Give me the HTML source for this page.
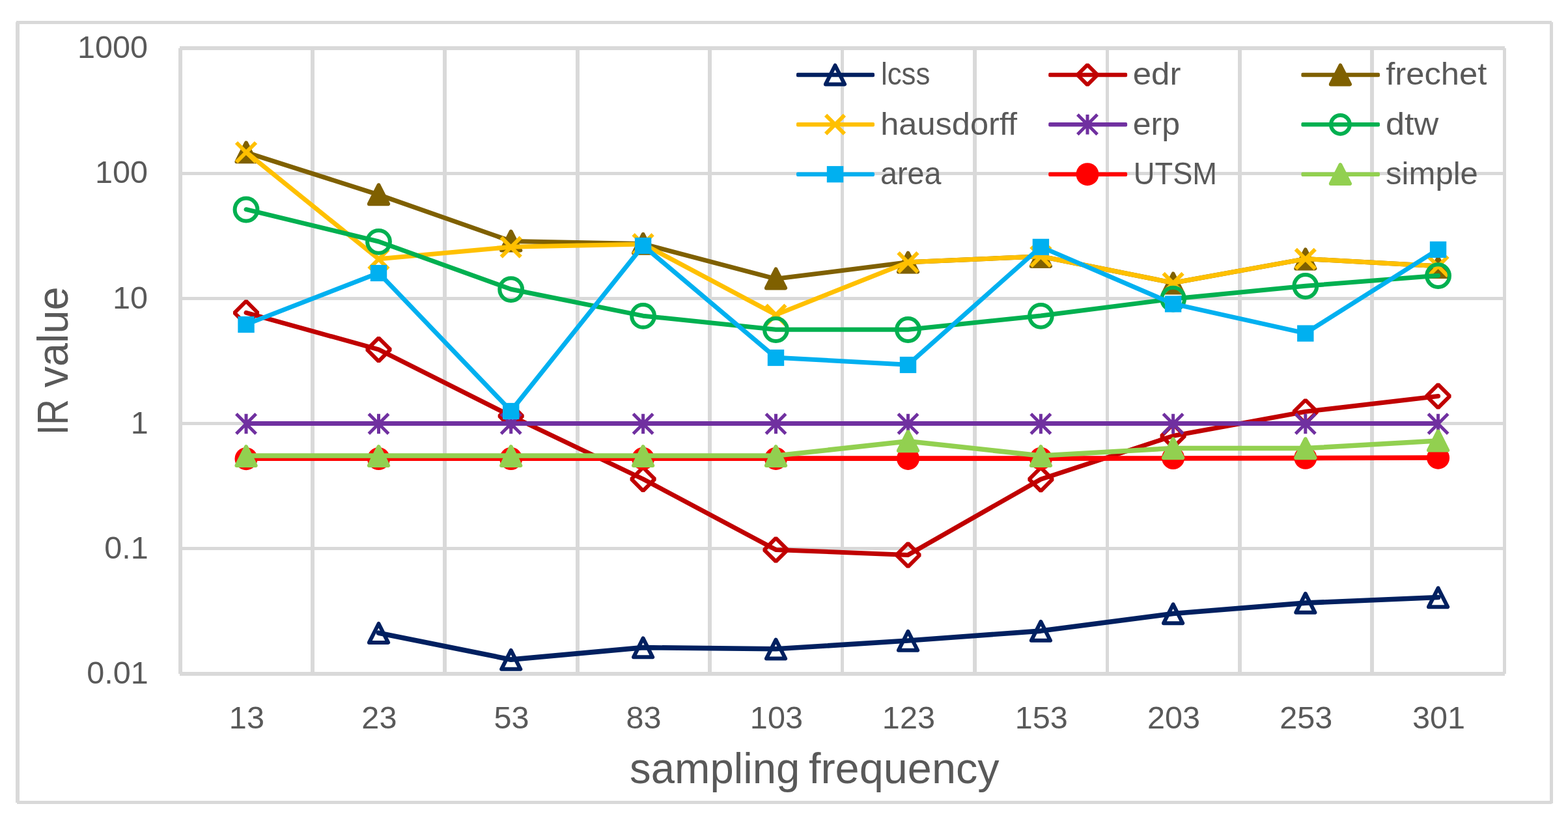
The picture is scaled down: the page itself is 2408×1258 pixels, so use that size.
<!DOCTYPE html>
<html lang="en"><head><meta charset="utf-8"><title>IR value vs sampling frequency</title>
<style>html,body{margin:0;padding:0;background:#fff;}body{width:2408px;height:1258px;overflow:hidden;}svg{display:block;}text{font-family:"Liberation Sans", sans-serif;fill:#595959;}</style>
</head><body>
<svg xmlns="http://www.w3.org/2000/svg" width="2408" height="1258" viewBox="0 0 2408 1258">
<rect width="2408" height="1258" fill="#fff"/>
<g fill="#D9D9D9" shape-rendering="crispEdges">
<rect x="25" y="32" width="2358" height="5"/>
<rect x="26" y="1230" width="2357" height="5"/>
<rect x="24" y="34" width="6" height="1198.6"/>
<rect x="2380" y="34" width="5" height="1199.5"/>
<rect x="276" y="71" width="2035" height="6"/>
<rect x="276" y="1032" width="2035" height="6"/>
<rect x="274" y="74" width="6" height="961"/>
<rect x="2308" y="74" width="5" height="961"/>
<rect x="277" y="264" width="2033" height="5"/>
<rect x="277" y="456" width="2033" height="5"/>
<rect x="277" y="648" width="2033" height="5"/>
<rect x="277" y="840" width="2033" height="5"/>
<rect x="477" y="74" width="6" height="961"/>
<rect x="680" y="74" width="6" height="961"/>
<rect x="884" y="74" width="6" height="961"/>
<rect x="1087" y="74" width="6" height="961"/>
<rect x="1291" y="74" width="5" height="961"/>
<rect x="1494" y="74" width="6" height="961"/>
<rect x="1698" y="74" width="5" height="961"/>
<rect x="1901" y="74" width="6" height="961"/>
<rect x="2104" y="74" width="6" height="961"/>
</g>
<g id="s-lcss">
<polyline points="581.5,972.2 784.7,1013.15 987.6,994.6 1191.5,996.8 1394.5,984.05 1598.4,969.1 1801.6,942.5 2004.8,926.1 2208.55,917.5" fill="none" stroke="#002060" stroke-width="7.6" stroke-linecap="round" stroke-linejoin="round"/>
<polygon points="581.5,958 596.1,986.9 566.9,986.9" fill="none" stroke="#002060" stroke-width="6" stroke-linejoin="round"/>
<polygon points="784.7,998.95 799.3,1027.85 770.1,1027.85" fill="none" stroke="#002060" stroke-width="6" stroke-linejoin="round"/>
<polygon points="987.6,980.4 1002.2,1009.3 973,1009.3" fill="none" stroke="#002060" stroke-width="6" stroke-linejoin="round"/>
<polygon points="1191.5,982.6 1206.1,1011.5 1176.9,1011.5" fill="none" stroke="#002060" stroke-width="6" stroke-linejoin="round"/>
<polygon points="1394.5,969.85 1409.1,998.75 1379.9,998.75" fill="none" stroke="#002060" stroke-width="6" stroke-linejoin="round"/>
<polygon points="1598.4,954.9 1613,983.8 1583.8,983.8" fill="none" stroke="#002060" stroke-width="6" stroke-linejoin="round"/>
<polygon points="1801.6,928.3 1816.2,957.2 1787,957.2" fill="none" stroke="#002060" stroke-width="6" stroke-linejoin="round"/>
<polygon points="2004.8,911.9 2019.4,940.8 1990.2,940.8" fill="none" stroke="#002060" stroke-width="6" stroke-linejoin="round"/>
<polygon points="2208.55,903.3 2223.15,932.2 2193.95,932.2" fill="none" stroke="#002060" stroke-width="6" stroke-linejoin="round"/>
</g>
<g id="s-edr">
<polyline points="378,480.4 581.5,536.85 784.7,638.9 987.6,735.8 1191.5,844.45 1394.5,852.4 1598.4,736.1 1801.6,669.5 2004.8,632.3 2208.55,608.4" fill="none" stroke="#C00000" stroke-width="7" stroke-linecap="round" stroke-linejoin="round"/>
<polygon points="378,462.6 395.9,480.5 378,498.4 360.1,480.5" fill="none" stroke="#C00000" stroke-width="6" stroke-linejoin="bevel"/>
<polygon points="581.5,519.05 599.4,536.95 581.5,554.85 563.6,536.95" fill="none" stroke="#C00000" stroke-width="6" stroke-linejoin="bevel"/>
<polygon points="784.7,621.1 802.6,639 784.7,656.9 766.8,639" fill="none" stroke="#C00000" stroke-width="6" stroke-linejoin="bevel"/>
<polygon points="987.6,718 1005.5,735.9 987.6,753.8 969.7,735.9" fill="none" stroke="#C00000" stroke-width="6" stroke-linejoin="bevel"/>
<polygon points="1191.5,826.65 1209.4,844.55 1191.5,862.45 1173.6,844.55" fill="none" stroke="#C00000" stroke-width="6" stroke-linejoin="bevel"/>
<polygon points="1394.5,834.6 1412.4,852.5 1394.5,870.4 1376.6,852.5" fill="none" stroke="#C00000" stroke-width="6" stroke-linejoin="bevel"/>
<polygon points="1598.4,718.3 1616.3,736.2 1598.4,754.1 1580.5,736.2" fill="none" stroke="#C00000" stroke-width="6" stroke-linejoin="bevel"/>
<polygon points="1801.6,651.7 1819.5,669.6 1801.6,687.5 1783.7,669.6" fill="none" stroke="#C00000" stroke-width="6" stroke-linejoin="bevel"/>
<polygon points="2004.8,614.5 2022.7,632.4 2004.8,650.3 1986.9,632.4" fill="none" stroke="#C00000" stroke-width="6" stroke-linejoin="bevel"/>
<polygon points="2208.55,590.6 2226.45,608.5 2208.55,626.4 2190.65,608.5" fill="none" stroke="#C00000" stroke-width="6" stroke-linejoin="bevel"/>
</g>
<g id="s-frechet">
<polyline points="378,234.2 581.5,299.1 784.7,370.4 987.6,374.6 1191.5,428.3 1394.5,402.75 1598.4,393.7 1801.6,434.5 2004.8,397.6 2208.55,408.7" fill="none" stroke="#7F6000" stroke-width="7" stroke-linecap="round" stroke-linejoin="round"/>
<polygon points="378,219.4 392.6,248.3 363.4,248.3" fill="#7F6000" stroke="#7F6000" stroke-width="6" stroke-linejoin="round"/>
<polygon points="581.5,284.3 596.1,313.2 566.9,313.2" fill="#7F6000" stroke="#7F6000" stroke-width="6" stroke-linejoin="round"/>
<polygon points="784.7,355.6 799.3,384.5 770.1,384.5" fill="#7F6000" stroke="#7F6000" stroke-width="6" stroke-linejoin="round"/>
<polygon points="987.6,359.8 1002.2,388.7 973,388.7" fill="#7F6000" stroke="#7F6000" stroke-width="6" stroke-linejoin="round"/>
<polygon points="1191.5,413.5 1206.1,442.4 1176.9,442.4" fill="#7F6000" stroke="#7F6000" stroke-width="6" stroke-linejoin="round"/>
<polygon points="1394.5,388.7 1409.1,417.6 1379.9,417.6" fill="#7F6000" stroke="#7F6000" stroke-width="6" stroke-linejoin="round"/>
<polygon points="1598.4,380 1613,408.9 1583.8,408.9" fill="#7F6000" stroke="#7F6000" stroke-width="6" stroke-linejoin="round"/>
<polygon points="1801.6,420.5 1816.2,449.4 1787,449.4" fill="#7F6000" stroke="#7F6000" stroke-width="6" stroke-linejoin="round"/>
<polygon points="2004.8,383.5 2019.4,412.4 1990.2,412.4" fill="#7F6000" stroke="#7F6000" stroke-width="6" stroke-linejoin="round"/>
<polygon points="2208.55,396 2223.15,424.9 2193.95,424.9" fill="#7F6000" stroke="#7F6000" stroke-width="6" stroke-linejoin="round"/>
</g>
<g id="s-hausdorff">
<polyline points="378,233.7 581.5,397.8 784.7,379.3 987.6,374.9 1191.5,483.4 1394.5,402.75 1598.4,393.7 1801.6,434.5 2004.8,397.6 2208.55,408.7" fill="none" stroke="#FFC000" stroke-width="7" stroke-linecap="round" stroke-linejoin="round"/>
<path d="M363,219L393,249M363,249L393,219" fill="none" stroke="#FFC000" stroke-width="6"/>
<path d="M566.5,383.1L596.5,413.1M566.5,413.1L596.5,383.1" fill="none" stroke="#FFC000" stroke-width="6"/>
<path d="M769.7,364.6L799.7,394.6M769.7,394.6L799.7,364.6" fill="none" stroke="#FFC000" stroke-width="6"/>
<path d="M972.6,360.2L1002.6,390.2M972.6,390.2L1002.6,360.2" fill="none" stroke="#FFC000" stroke-width="6"/>
<path d="M1176.5,468.7L1206.5,498.7M1176.5,498.7L1206.5,468.7" fill="none" stroke="#FFC000" stroke-width="6"/>
<path d="M1379.5,388.05L1409.5,418.05M1379.5,418.05L1409.5,388.05" fill="none" stroke="#FFC000" stroke-width="6"/>
<path d="M1583.4,379L1613.4,409M1583.4,409L1613.4,379" fill="none" stroke="#FFC000" stroke-width="6"/>
<path d="M1786.6,419.8L1816.6,449.8M1786.6,449.8L1816.6,419.8" fill="none" stroke="#FFC000" stroke-width="6"/>
<path d="M1989.8,382.9L2019.8,412.9M1989.8,412.9L2019.8,382.9" fill="none" stroke="#FFC000" stroke-width="6"/>
<path d="M2193.55,394L2223.55,424M2193.55,424L2223.55,394" fill="none" stroke="#FFC000" stroke-width="6"/>
</g>
<g id="s-erp">
<polyline points="378,650.5 581.5,650.5 784.7,650.5 987.6,650.5 1191.5,650.5 1394.5,650.5 1598.4,650.5 1801.6,650.5 2004.8,650.5 2208.55,650.5" fill="none" stroke="#7030A0" stroke-width="7" stroke-linecap="round" stroke-linejoin="round"/>
<path d="M362.8,635.8L393.2,666.2M362.8,666.2L393.2,635.8M378,635.7L378,666.3" fill="none" stroke="#7030A0" stroke-width="5"/>
<path d="M566.3,635.8L596.7,666.2M566.3,666.2L596.7,635.8M581.5,635.7L581.5,666.3" fill="none" stroke="#7030A0" stroke-width="5"/>
<path d="M769.5,635.8L799.9,666.2M769.5,666.2L799.9,635.8M784.7,635.7L784.7,666.3" fill="none" stroke="#7030A0" stroke-width="5"/>
<path d="M972.4,635.8L1002.8,666.2M972.4,666.2L1002.8,635.8M987.6,635.7L987.6,666.3" fill="none" stroke="#7030A0" stroke-width="5"/>
<path d="M1176.3,635.8L1206.7,666.2M1176.3,666.2L1206.7,635.8M1191.5,635.7L1191.5,666.3" fill="none" stroke="#7030A0" stroke-width="5"/>
<path d="M1379.3,635.8L1409.7,666.2M1379.3,666.2L1409.7,635.8M1394.5,635.7L1394.5,666.3" fill="none" stroke="#7030A0" stroke-width="5"/>
<path d="M1583.2,635.8L1613.6,666.2M1583.2,666.2L1613.6,635.8M1598.4,635.7L1598.4,666.3" fill="none" stroke="#7030A0" stroke-width="5"/>
<path d="M1786.4,635.8L1816.8,666.2M1786.4,666.2L1816.8,635.8M1801.6,635.7L1801.6,666.3" fill="none" stroke="#7030A0" stroke-width="5"/>
<path d="M1989.6,635.8L2020,666.2M1989.6,666.2L2020,635.8M2004.8,635.7L2004.8,666.3" fill="none" stroke="#7030A0" stroke-width="5"/>
<path d="M2193.35,635.8L2223.75,666.2M2193.35,666.2L2223.75,635.8M2208.55,635.7L2208.55,666.3" fill="none" stroke="#7030A0" stroke-width="5"/>
</g>
<g id="s-dtw">
<polyline points="378,321.7 581.5,371 784.7,444.25 987.6,485.15 1191.5,506.2 1394.5,506.2 1598.4,485 1801.6,458.9 2004.8,439.2 2208.55,423.3" fill="none" stroke="#00B050" stroke-width="7" stroke-linecap="round" stroke-linejoin="round"/>
<circle cx="378" cy="322" r="17.4" fill="none" stroke="#00B050" stroke-width="6"/>
<circle cx="581.5" cy="371.3" r="17.4" fill="none" stroke="#00B050" stroke-width="6"/>
<circle cx="784.7" cy="444.55" r="17.4" fill="none" stroke="#00B050" stroke-width="6"/>
<circle cx="987.6" cy="485.45" r="17.4" fill="none" stroke="#00B050" stroke-width="6"/>
<circle cx="1191.5" cy="506.5" r="17.4" fill="none" stroke="#00B050" stroke-width="6"/>
<circle cx="1394.5" cy="506.5" r="17.4" fill="none" stroke="#00B050" stroke-width="6"/>
<circle cx="1598.4" cy="485.3" r="17.4" fill="none" stroke="#00B050" stroke-width="6"/>
<circle cx="1801.6" cy="459.2" r="17.4" fill="none" stroke="#00B050" stroke-width="6"/>
<circle cx="2004.8" cy="439.5" r="17.4" fill="none" stroke="#00B050" stroke-width="6"/>
<circle cx="2208.55" cy="423.6" r="17.4" fill="none" stroke="#00B050" stroke-width="6"/>
</g>
<g id="s-area">
<polyline points="378,498.2 581.5,419.2 784.7,631.2 987.6,377.2 1191.5,549.2 1394.5,560.2 1598.4,379.1 1801.6,466.7 2004.8,511.8 2208.55,383.1" fill="none" stroke="#00B0F0" stroke-width="7" stroke-linecap="round" stroke-linejoin="round"/>
<rect x="365.3" y="485.9" width="25.4" height="25.2" fill="#00B0F0"/>
<rect x="568.8" y="406.9" width="25.4" height="25.2" fill="#00B0F0"/>
<rect x="772" y="618.9" width="25.4" height="25.2" fill="#00B0F0"/>
<rect x="974.9" y="364.9" width="25.4" height="25.2" fill="#00B0F0"/>
<rect x="1178.8" y="536.9" width="25.4" height="25.2" fill="#00B0F0"/>
<rect x="1381.8" y="547.9" width="25.4" height="25.2" fill="#00B0F0"/>
<rect x="1585.7" y="366.8" width="25.4" height="25.2" fill="#00B0F0"/>
<rect x="1788.9" y="454.4" width="25.4" height="25.2" fill="#00B0F0"/>
<rect x="1992.1" y="499.5" width="25.4" height="25.2" fill="#00B0F0"/>
<rect x="2195.85" y="370.8" width="25.4" height="25.2" fill="#00B0F0"/>
</g>
<g id="s-UTSM">
<polyline points="378,704.05 581.5,704.05 784.7,704.05 987.6,704.05 1191.5,704.05 1394.5,704.05 1598.4,704.05 1801.6,704 2004.8,703.6 2208.55,703" fill="none" stroke="#FF0000" stroke-width="7.7" stroke-linecap="round" stroke-linejoin="round"/>
<circle cx="378" cy="704.7" r="17.5" fill="#FF0000"/>
<circle cx="581.5" cy="704.6" r="17.5" fill="#FF0000"/>
<circle cx="784.7" cy="704.5" r="17.5" fill="#FF0000"/>
<circle cx="987.6" cy="704.3" r="17.5" fill="#FF0000"/>
<circle cx="1191.5" cy="704.4" r="17.5" fill="#FF0000"/>
<circle cx="1394.5" cy="704.4" r="17.5" fill="#FF0000"/>
<circle cx="1598.4" cy="704.3" r="17.5" fill="#FF0000"/>
<circle cx="1801.6" cy="703.5" r="17.5" fill="#FF0000"/>
<circle cx="2004.8" cy="703.3" r="17.5" fill="#FF0000"/>
<circle cx="2208.55" cy="703.2" r="17.5" fill="#FF0000"/>
</g>
<g id="s-simple">
<polyline points="378,700 581.5,700 784.7,700 987.6,700 1191.5,700 1394.5,677.7 1598.4,700 1801.6,688.5 2004.8,688.6 2208.55,677" fill="none" stroke="#92D050" stroke-width="7.5" stroke-linecap="round" stroke-linejoin="round"/>
<polygon points="378,686.15 392.6,715.05 363.4,715.05" fill="#92D050" stroke="#92D050" stroke-width="6" stroke-linejoin="round"/>
<polygon points="581.5,686.15 596.1,715.05 566.9,715.05" fill="#92D050" stroke="#92D050" stroke-width="6" stroke-linejoin="round"/>
<polygon points="784.7,686.15 799.3,715.05 770.1,715.05" fill="#92D050" stroke="#92D050" stroke-width="6" stroke-linejoin="round"/>
<polygon points="987.6,686.15 1002.2,715.05 973,715.05" fill="#92D050" stroke="#92D050" stroke-width="6" stroke-linejoin="round"/>
<polygon points="1191.5,686.15 1206.1,715.05 1176.9,715.05" fill="#92D050" stroke="#92D050" stroke-width="6" stroke-linejoin="round"/>
<polygon points="1394.5,663.3 1409.1,692.2 1379.9,692.2" fill="#92D050" stroke="#92D050" stroke-width="6" stroke-linejoin="round"/>
<polygon points="1598.4,686.15 1613,715.05 1583.8,715.05" fill="#92D050" stroke="#92D050" stroke-width="6" stroke-linejoin="round"/>
<polygon points="1801.6,674.3 1816.2,703.2 1787,703.2" fill="#92D050" stroke="#92D050" stroke-width="6" stroke-linejoin="round"/>
<polygon points="2004.8,674.3 2019.4,703.2 1990.2,703.2" fill="#92D050" stroke="#92D050" stroke-width="6" stroke-linejoin="round"/>
<polygon points="2208.55,662.7 2223.15,691.6 2193.95,691.6" fill="#92D050" stroke="#92D050" stroke-width="6" stroke-linejoin="round"/>
</g>
<g id="legend">
<rect x="1223" y="111.7" width="120" height="6.6" rx="2" fill="#002060"/>
<polygon points="1282.5,100.5 1297.1,129.4 1267.9,129.4" fill="none" stroke="#002060" stroke-width="6" stroke-linejoin="round"/>
<text transform="translate(1352.95,129.8) scale(0.9131,1)" font-size="48">lcss</text>
<rect x="1610.2" y="111.7" width="120.9" height="6.6" rx="2" fill="#C00000"/>
<polygon points="1670,99.6 1685.4,115 1670,130.4 1654.6,115" fill="none" stroke="#C00000" stroke-width="6" stroke-linejoin="bevel"/>
<text transform="translate(1739.71,129.8) scale(1.0620,1)" font-size="48">edr</text>
<rect x="1998.4" y="111.7" width="120.6" height="6.6" rx="2" fill="#7F6000"/>
<polygon points="2058.4,100.5 2073,129.4 2043.8,129.4" fill="#7F6000" stroke="#7F6000" stroke-width="6" stroke-linejoin="round"/>
<text transform="translate(2128.24,129.8) scale(1.0578,1)" font-size="48">frechet</text>
<rect x="1223" y="188" width="120" height="6.6" rx="2" fill="#FFC000"/>
<path d="M1268.1,176.9L1296.9,205.7M1268.1,205.7L1296.9,176.9" fill="none" stroke="#FFC000" stroke-width="6"/>
<text transform="translate(1352.26,207.1) scale(1.0526,1)" font-size="48">hausdorff</text>
<rect x="1610.2" y="188" width="120.9" height="6.6" rx="2" fill="#7030A0"/>
<path d="M1654.8,176.1L1685.2,206.5M1654.8,206.5L1685.2,176.1M1670,176L1670,206.6" fill="none" stroke="#7030A0" stroke-width="5"/>
<text transform="translate(1739.75,207.1) scale(1.0432,1)" font-size="48">erp</text>
<rect x="1998.4" y="188" width="120.6" height="6.6" rx="2" fill="#00B050"/>
<circle cx="2058.4" cy="191.3" r="14.4" fill="none" stroke="#00B050" stroke-width="6"/>
<text transform="translate(2128.01,207.1) scale(1.0896,1)" font-size="48">dtw</text>
<rect x="1223" y="264.4" width="120" height="6.6" rx="2" fill="#00B0F0"/>
<rect x="1269.8" y="255.1" width="25.4" height="25.2" fill="#00B0F0"/>
<text transform="translate(1352.1,283) scale(0.9729,1)" font-size="48">area</text>
<rect x="1610.2" y="264.4" width="120.9" height="6.6" rx="2" fill="#FF0000"/>
<circle cx="1670" cy="267.7" r="17.5" fill="#FF0000"/>
<text transform="translate(1740.8,283) scale(0.9431,1)" font-size="48">UTSM</text>
<rect x="1998.4" y="264.4" width="120.6" height="6.6" rx="2" fill="#92D050"/>
<polygon points="2058.4,253.2 2073,282.1 2043.8,282.1" fill="#92D050" stroke="#92D050" stroke-width="6" stroke-linejoin="round"/>
<text transform="translate(2128.03,283) scale(1.0228,1)" font-size="48">simple</text>
</g>
<g id="ylabels" font-size="48.6">
<text transform="translate(118.96,88.85) scale(1,0.99)">1000</text>
<text transform="translate(145.93,280.85) scale(1,0.99)">100</text>
<text transform="translate(172.91,473.8) scale(1,0.99)">10</text>
<text transform="translate(200.86,665.8) scale(1,0.99)">1</text>
<text transform="translate(160.28,857.8) scale(1,0.99)">0.1</text>
<text transform="translate(133.3,1049.8) scale(1,0.99)">0.01</text>
</g>
<g id="xlabels" font-size="48.6" text-anchor="middle">
<text transform="translate(378.9,1118.8) scale(1,0.99)">13</text>
<text transform="translate(582.4,1118.8) scale(1,0.99)">23</text>
<text transform="translate(785.6,1118.8) scale(1,0.99)">53</text>
<text transform="translate(988.5,1118.8) scale(1,0.99)">83</text>
<text transform="translate(1192.4,1118.8) scale(1,0.99)">103</text>
<text transform="translate(1395.4,1118.8) scale(1,0.99)">123</text>
<text transform="translate(1599.3,1118.8) scale(1,0.99)">153</text>
<text transform="translate(1802.5,1118.8) scale(1,0.99)">203</text>
<text transform="translate(2005.7,1118.8) scale(1,0.99)">253</text>
<text transform="translate(2209.45,1118.8) scale(1,0.99)">301</text>
</g>
<g id="titles">
<text transform="translate(967.09,1203) scale(0.9891,1)" font-size="66">sampling</text>
<text transform="translate(1241.9,1203) scale(1.0100,1)" font-size="66">frequency</text>
<text transform="translate(104,667.93) rotate(-90) scale(0.8298,1)" font-size="66">IR</text>
<text transform="translate(104,595.32) rotate(-90) scale(0.9810,1)" font-size="66">value</text>
</g>
</svg>
</body></html>
